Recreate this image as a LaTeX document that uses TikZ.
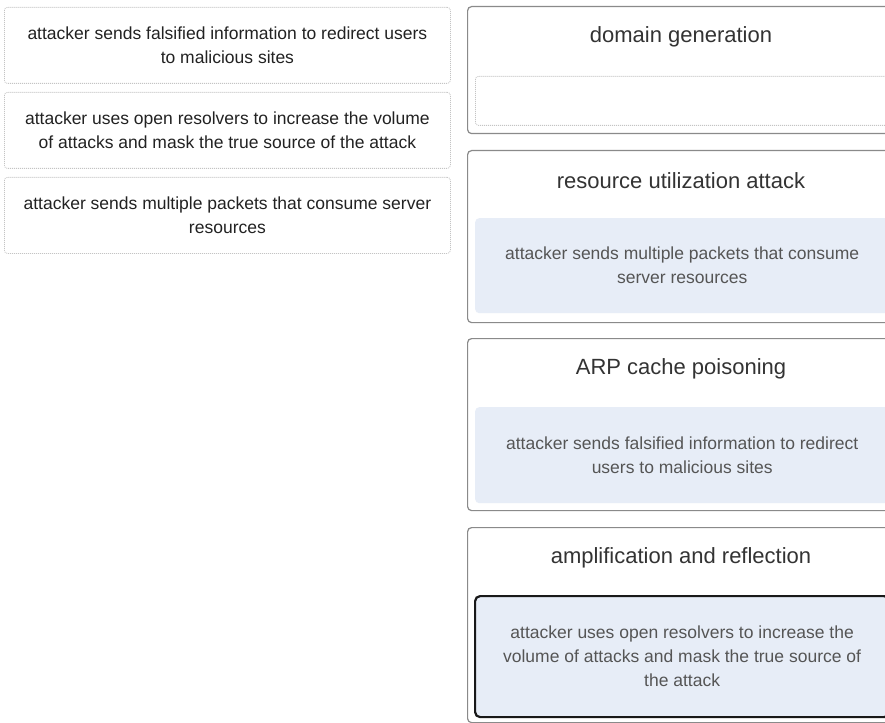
\documentclass[tikz,border=0pt]{standalone}
\usepackage{fontspec}
\setmainfont{Liberation Sans}
\definecolor{cardline}{HTML}{8A8A8A}
\definecolor{dotline}{HTML}{C4C4C4}
\definecolor{slotfill}{HTML}{E7EDF7}
\definecolor{bodytext}{HTML}{222222}
\definecolor{titletext}{HTML}{333333}
\definecolor{slottext}{HTML}{555555}
\tikzset{
  choice/.style={draw=dotline, line width=0.8pt, dash pattern=on 1pt off 1pt,
    rounded corners=3pt, minimum width=446pt, minimum height=76pt,
    anchor=north west, inner sep=0pt, align=center, text=bodytext,
    font=\fontsize{17.5}{24}\selectfont},
  card/.style={draw=cardline, line width=1.2pt, rounded corners=4pt,
    minimum width=430pt, anchor=north west, inner sep=0pt},
  cardtitle/.style={text=titletext, font=\fontsize{22}{26}\selectfont, inner sep=0pt},
  emptyslot/.style={draw=dotline, line width=0.8pt, dash pattern=on 1pt off 1pt,
    rounded corners=3pt, minimum width=420pt, minimum height=49pt,
    anchor=north west, inner sep=0pt},
  filledslot/.style={fill=slotfill, rounded corners=4pt, minimum width=414pt,
    anchor=north west, inner sep=0pt, align=center, text=slottext,
    font=\fontsize{17.5}{24}\selectfont},
  activeslot/.style={filledslot, draw=black!90, line width=2.2pt, rounded corners=5pt}
}
\begin{document}
\begin{tikzpicture}[x=1pt,y=-1pt]
\useasboundingbox (0,0) rectangle (885,722);
\clip (0,0) rectangle (885,722);
\fill[white] (0,0) rectangle (885,722);

% answer choices on the left
\node[choice] (c1) at (4,7) {attacker sends falsified information to redirect users\\to malicious sites};
\node[choice] (c2) at (4,92) {attacker uses open resolvers to increase the volume\\of attacks and mask the true source of the attack};
\node[choice] (c3) at (4,177) {attacker sends multiple packets that consume server\\resources};

% target cards on the right
\node[card, minimum height=127pt] (k1) at (467,6) {};
\node[cardtitle] (t1) at (681,37) {domain generation};
\node[emptyslot] (s1) at (475,76) {};

\node[card, minimum height=172pt] (k2) at (467,150) {};
\node[cardtitle] (t2) at (681,181) {resource utilization attack};
\node[filledslot, minimum height=95pt] (s2) at (475,218) {attacker sends multiple packets that consume\\server resources};

\node[card, minimum height=172pt] (k3) at (467,338) {};
\node[cardtitle] (t3) at (681,369) {ARP cache poisoning};
\node[filledslot, minimum height=96pt] (s3) at (475,407) {attacker sends falsified information to redirect\\users to malicious sites};

\node[card, minimum height=195pt] (k4) at (467,527) {};
\node[cardtitle] (t4) at (681,558) {amplification and reflection};
\node[activeslot, minimum height=121pt] (s4) at (474,595) {attacker uses open resolvers to increase the\\volume of attacks and mask the true source of\\the attack};
\end{tikzpicture}
\end{document}
